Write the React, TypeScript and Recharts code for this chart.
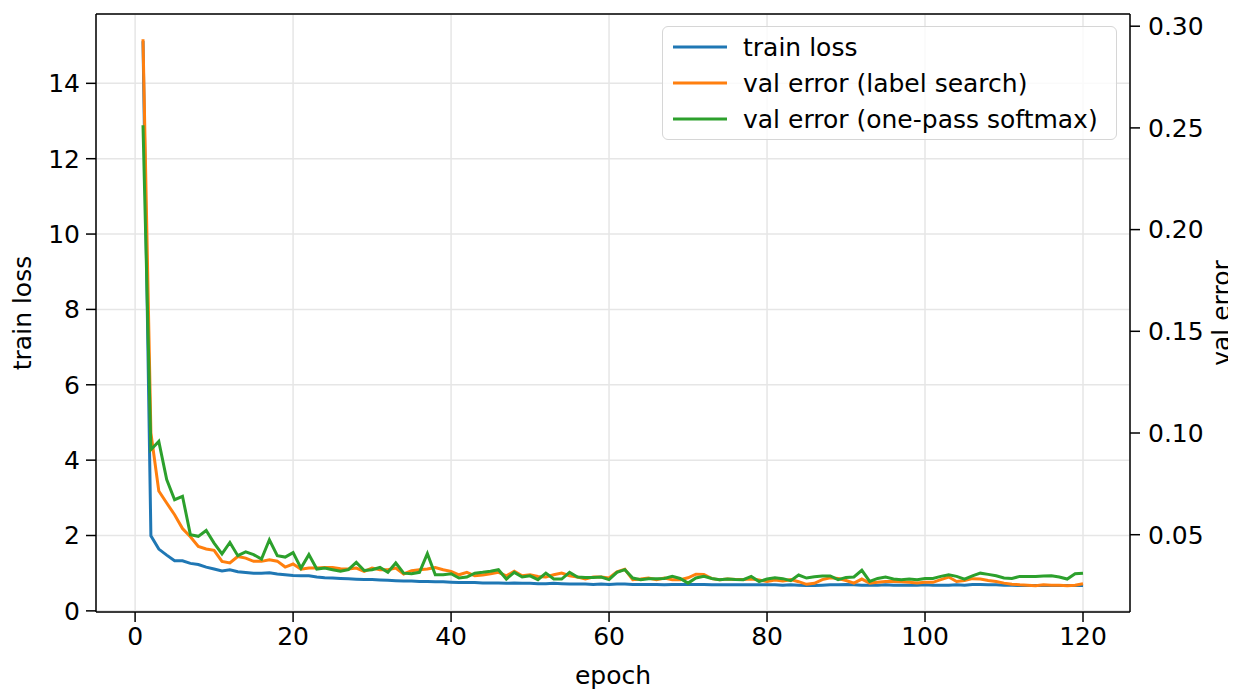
import React from "react";
import {
  LineChart,
  Line,
  XAxis,
  YAxis,
  CartesianGrid,
  Legend,
  ReferenceLine,
} from "recharts";

const FONT = "'DejaVu Sans', sans-serif";

// train loss per epoch (left axis)
const trainLoss = [
  15.12, 1.99, 1.64, 1.48, 1.33, 1.33, 1.26, 1.23, 1.16, 1.11,
  1.06, 1.09, 1.04, 1.02, 1.0, 1.0, 1.01, 0.98, 0.96, 0.94,
  0.93, 0.93, 0.9, 0.88, 0.87, 0.86, 0.85, 0.84, 0.83, 0.83,
  0.82, 0.81, 0.8, 0.79, 0.79, 0.78, 0.78, 0.77, 0.77, 0.76,
  0.75, 0.75, 0.75, 0.74, 0.74, 0.74, 0.73, 0.74, 0.73, 0.73,
  0.72, 0.72, 0.73, 0.72, 0.71, 0.71, 0.71, 0.7, 0.71, 0.7,
  0.71, 0.71, 0.7, 0.7, 0.7, 0.7, 0.69, 0.7, 0.7, 0.7,
  0.7, 0.7, 0.69, 0.69, 0.69, 0.69, 0.69, 0.69, 0.69, 0.69,
  0.69, 0.68, 0.69, 0.68, 0.67, 0.67, 0.68, 0.69, 0.69, 0.7,
  0.69, 0.68, 0.68, 0.68, 0.69, 0.68, 0.68, 0.68, 0.68, 0.69,
  0.68, 0.68, 0.68, 0.69, 0.68, 0.7, 0.7, 0.69, 0.69, 0.68,
  0.68, 0.67, 0.67, 0.67, 0.67, 0.67, 0.67, 0.67, 0.67, 0.67,
];

// val error, label search (right axis)
const valErrLabelSearch = [
  0.2936, 0.1, 0.0715, 0.0656, 0.0598, 0.053, 0.049, 0.0442, 0.043, 0.0423,
  0.0369, 0.0361, 0.0393, 0.0385, 0.0369, 0.0369, 0.0377, 0.037, 0.0341, 0.0356,
  0.033, 0.0336, 0.0336, 0.0339, 0.0339, 0.0333, 0.0331, 0.0336, 0.032, 0.0336,
  0.0328, 0.0328, 0.0336, 0.0307, 0.0323, 0.0328, 0.0331, 0.0339, 0.0328, 0.032,
  0.0303, 0.0315, 0.0298, 0.0302, 0.0308, 0.0315, 0.0298, 0.032, 0.0298, 0.0303,
  0.0295, 0.0292, 0.0303, 0.0311, 0.0298, 0.0292, 0.0282, 0.0292, 0.0292, 0.0287,
  0.0318, 0.033, 0.0279, 0.0282, 0.0287, 0.0279, 0.0287, 0.0279, 0.0279, 0.0288,
  0.0306, 0.0305, 0.0284, 0.0279, 0.0282, 0.028, 0.028, 0.0282, 0.0277, 0.027,
  0.0277, 0.0272, 0.0279, 0.0269, 0.0256, 0.0261, 0.0279, 0.0288, 0.0285, 0.0275,
  0.0262, 0.0282, 0.0262, 0.0266, 0.027, 0.027, 0.0269, 0.0266, 0.0262, 0.0266,
  0.0266, 0.0279, 0.0292, 0.027, 0.0275, 0.0284, 0.0282, 0.0275, 0.027, 0.0262,
  0.0257, 0.0254, 0.0252, 0.0249, 0.0254, 0.0252, 0.0251, 0.0249, 0.0252, 0.0259,
];

// val error, one-pass softmax (right axis)
const valErrOnePass = [
  0.2513, 0.0918, 0.0959, 0.0771, 0.0672, 0.0689, 0.05, 0.0492, 0.0521, 0.0459,
  0.0406, 0.0462, 0.0397, 0.0416, 0.0402, 0.038, 0.0475, 0.0397, 0.039, 0.0412,
  0.0336, 0.0402, 0.0331, 0.0336, 0.0328, 0.032, 0.0328, 0.0364, 0.0324, 0.0328,
  0.0339, 0.0315, 0.0361, 0.0311, 0.0308, 0.0315, 0.0407, 0.0303, 0.0303, 0.0308,
  0.0287, 0.0292, 0.0311, 0.0315, 0.032, 0.0328, 0.0282, 0.0315, 0.0292, 0.0298,
  0.0279, 0.0311, 0.0282, 0.0282, 0.0315, 0.0292, 0.029, 0.029, 0.0292, 0.0279,
  0.0315, 0.0328, 0.0287, 0.0279, 0.0284, 0.0284, 0.0285, 0.0295, 0.0285, 0.0262,
  0.0287, 0.0295, 0.0285, 0.0279, 0.0282, 0.028, 0.0279, 0.0295, 0.027, 0.0282,
  0.0288, 0.0284, 0.0274, 0.0302, 0.0287, 0.0293, 0.0297, 0.0297, 0.0279, 0.029,
  0.0292, 0.0325, 0.027, 0.0285, 0.0292, 0.0282, 0.0279, 0.0282, 0.0279, 0.0285,
  0.0285, 0.0295, 0.0303, 0.0295, 0.0282, 0.0298, 0.0311, 0.0305, 0.0298, 0.0287,
  0.0285, 0.0295, 0.0295, 0.0295, 0.0297, 0.0298, 0.0292, 0.0282, 0.0308, 0.0311,
];

const epochs = trainLoss.map((_, i) => i + 1);

const xTicks = [0, 20, 40, 60, 80, 100, 120];
const lossTicks = [0, 2, 4, 6, 8, 10, 12, 14];
const errTicks = [0.05, 0.1, 0.15, 0.2, 0.25, 0.3];

const series = [
  { key: "loss", name: "train loss", color: "#1f77b4", axis: "left" },
  { key: "labelSearch", name: "val error (label search)", color: "#ff7f0e", axis: "right" },
  { key: "onePass", name: "val error (one-pass softmax)", color: "#2ca02c", axis: "right" },
];

const data = epochs.map((epoch, i) => ({
  epoch,
  loss: trainLoss[i],
  labelSearch: valErrLabelSearch[i],
  onePass: valErrOnePass[i],
}));

const LOSS_MAX = 15.84;

const tickStyle = { fill: "#000", fontSize: 25, fontFamily: FONT };

function LegendBox() {
  return (
    <div
      style={{
        boxSizing: "border-box",
        width: 455,
        height: 114,
        background: "rgba(255,255,255,0.8)",
        border: "1.5px solid #d6d6d6",
        borderRadius: 6,
        fontFamily: FONT,
        fontSize: 25,
        color: "#000",
        position: "relative",
      }}
    >
      {series.map((s, i) => (
        <div
          key={s.key}
          style={{
            position: "absolute",
            left: 0,
            top: 20 + i * 36 - 16,
            height: 32,
            display: "flex",
            alignItems: "center",
            whiteSpace: "nowrap",
          }}
        >
          <svg width={80} height={32}>
            <line x1={10} x2={64} y1={16} y2={16} stroke={s.color} strokeWidth={3} />
          </svg>
          <span>{s.name}</span>
        </div>
      ))}
    </div>
  );
}

// rotated titles use the baseline at x (glyphs extend to the left)
function AxisTitle(props: any) {
  const { viewBox, text, dx, dy, rotate } = props;
  const x = viewBox.x + dx;
  const y = rotate ? viewBox.y + viewBox.height / 2 : viewBox.y + dy;
  return (
    <text
      x={x}
      y={y}
      textAnchor="middle"
      dominantBaseline={rotate ? undefined : "central"}
      transform={rotate ? `rotate(-90 ${x} ${y})` : undefined}
      fill="#000"
      fontSize={25}
      fontFamily={FONT}
    >
      {text}
    </text>
  );
}

export default function App() {
  return (
    <div style={{ width: 1228, height: 681, background: "#fff" }}>
      <LineChart
        width={1228}
        height={681}
        data={data}
        margin={{ top: 6, right: 0, bottom: 0, left: 0 }}
      >
        <CartesianGrid yAxisId="left" stroke="#e6e6e6" strokeWidth={1.5} />
        <XAxis
          dataKey="epoch"
          type="number"
          domain={[-4.95, 125.95]}
          ticks={xTicks}
          allowDataOverflow
          height={77}
          tick={tickStyle}
          tickSize={10}
          tickMargin={5}
          stroke="#000"
          strokeWidth={1.5}
          tickLine={{ stroke: "#000", strokeWidth: 1.5 }}
          label={{
            content: (p: any) => <AxisTitle {...p} text="epoch" dx={p.viewBox.width / 2} dy={63} />,
          }}
        />
        <YAxis
          yAxisId="left"
          orientation="left"
          type="number"
          domain={[-0.03, LOSS_MAX]}
          ticks={lossTicks}
          allowDataOverflow
          width={88}
          tick={tickStyle}
          tickSize={10}
          tickMargin={6}
          stroke="#000"
          strokeWidth={1.5}
          tickLine={{ stroke: "#000", strokeWidth: 1.5 }}
          label={{
            content: (p: any) => <AxisTitle {...p} text="train loss" dx={23} rotate />,
          }}
        />
        <YAxis
          yAxisId="right"
          orientation="right"
          type="number"
          domain={[0.012, 0.306]}
          ticks={errTicks}
          allowDataOverflow
          width={106}
          tick={tickStyle}
          tickSize={10}
          tickMargin={8}
          tickFormatter={(v: number) => v.toFixed(2)}
          stroke="#000"
          strokeWidth={1.5}
          tickLine={{ stroke: "#000", strokeWidth: 1.5 }}
          label={{
            content: (p: any) => <AxisTitle {...p} text="val error" dx={100} rotate />,
          }}
        />
        <ReferenceLine yAxisId="left" y={LOSS_MAX} stroke="#000" strokeWidth={1.5} />
        {series.map((s) => (
          <Line
            key={s.key}
            yAxisId={s.axis}
            dataKey={s.key}
            name={s.name}
            type="linear"
            stroke={s.color}
            strokeWidth={3}
            dot={false}
            activeDot={false}
            isAnimationActive={false}
          />
        ))}
        <Legend
          layout="vertical"
          align="center"
          verticalAlign="middle"
          wrapperStyle={{ top: 18, left: 654, width: 455, height: 114 }}
          content={() => <LegendBox />}
        />
      </LineChart>
    </div>
  );
}
